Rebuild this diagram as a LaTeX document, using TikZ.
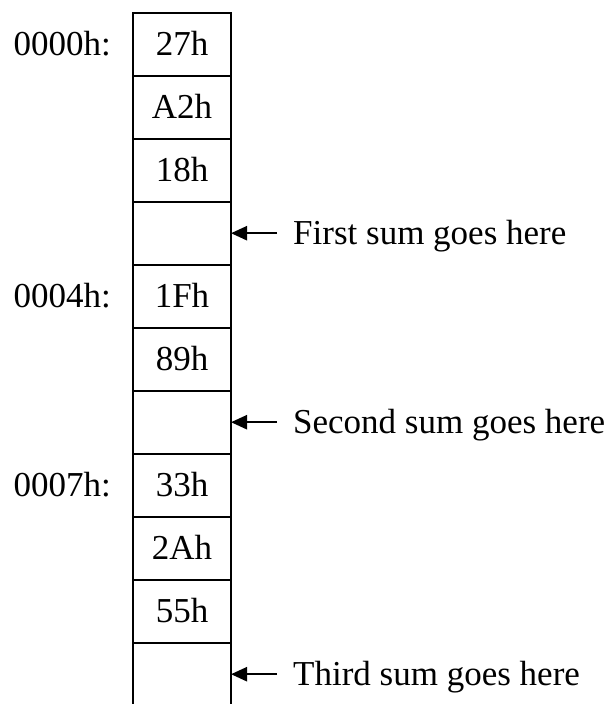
\documentclass[tikz,border=0pt]{standalone}
\usepackage{fontspec}
\setmainfont{Liberation Serif}
\usetikzlibrary{arrows.meta,positioning}

\begin{document}
\begin{tikzpicture}[
  x=1pt, y=1pt,
  txt/.style={font=\fontsize{35}{40}\selectfont, text height=23pt, text depth=0pt},
  cell/.style={txt, draw, line width=2.4pt, minimum width=98pt, minimum height=63pt,
               inner sep=0pt, outer sep=0pt},
  addr/.style={txt, inner sep=0pt},
  note/.style={txt, inner xsep=16pt, inner ysep=0pt},
  arr/.style={-{Triangle[length=16pt,width=14pt]}, line width=2.4pt},
  node distance=0pt
]
\useasboundingbox (0,0) rectangle (608,-704);

% memory column
\node[cell] (c1) at (182,-44.2) {27h};
\node[cell, below=of c1] (c2) {A2h};
\node[cell, below=of c2] (c3) {18h};
\node[cell, below=of c3] (c4) {};
\node[cell, below=of c4] (c5) {1Fh};
\node[cell, below=of c5] (c6) {89h};
\node[cell, below=of c6] (c7) {};
\node[cell, below=of c7] (c8) {33h};
\node[cell, below=of c8] (c9) {2Ah};
\node[cell, below=of c9] (c10) {55h};
\node[cell, below=of c10] (c11) {};

% addresses
\node[addr, left=22pt of c1] (a0) {0000h:};
\node[addr, left=22pt of c5] (a4) {0004h:};
\node[addr, left=22pt of c8] (a7) {0007h:};

% where the sums go
\node[note, right=46pt of c4] (s1) {First sum goes here};
\node[note, right=46pt of c7] (s2) {Second sum goes here};
\node[note, right=46pt of c11] (s3) {Third sum goes here};

\draw[arr] (s1) -- (c4);
\draw[arr] (s2) -- (c7);
\draw[arr] (s3) -- (c11);
\end{tikzpicture}
\end{document}
